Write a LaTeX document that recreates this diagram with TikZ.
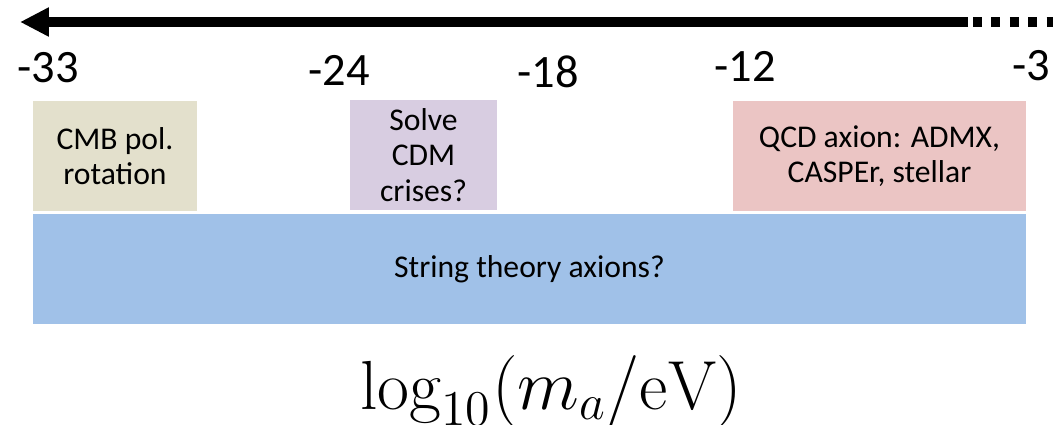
\documentclass[tikz,border=0pt]{standalone}
\usepackage{fontspec}
\usepackage{graphicx}
\usepackage{tikz}
\usetikzlibrary{arrows.meta,positioning}
\newfontfamily\calibri{Carlito}
\definecolor{cmbfill}{HTML}{E3E0CC}
\definecolor{cdmfill}{HTML}{D8CDE1}
\definecolor{qcdfill}{HTML}{EBC5C4}
\definecolor{stringfill}{HTML}{A0C1E8}

\begin{document}
\begin{tikzpicture}[x=0.025cm, y=-0.025cm,
  tick/.style={font=\calibri\fontsize{33}{38}\selectfont, inner sep=0pt},
  band/.style={minimum height=2.75cm, align=center, inner sep=0pt, font=\calibri\fontsize{22.5}{25}\selectfont},
  axisline/.style={line width=0.23cm, black}
]
  \useasboundingbox (0,0) rectangle (1053,424);

  % mass axis
  \coordinate (lo) at (20,22);
  \coordinate (mid) at (968,22);
  \coordinate (hi) at (1053,22);
  \draw[axisline, -{Triangle[length=0.72cm, width=0.68cm]}] (mid) -- (lo);
  \draw[axisline, dash pattern=on 0.22cm off 0.24cm] (973,22) -- (hi);

  \node[tick] (t33) at (48,68) {-33};
  \node[tick] (t24) at (339,70) {-24};
  \node[tick] (t18) at (548,72) {-18};
  \node[tick] (t12) at (745,66) {-12};
  \node[tick] (t3) at (1031,66) {-3};

  % probes
  \node[band, fill=cmbfill, minimum width=4.1cm] (cmb) at (115,156) {CMB pol.\\rotation};
  \node[band, fill=cdmfill, minimum width=3.675cm] (cdm) at (423.5,155) {Solve\\CDM\\crises?};
  \node[band, fill=qcdfill, minimum width=7.325cm] (qcd) at (879.5,156) {QCD axion: ADMX,\\CASPEr, stellar};
  \node[band, fill=stringfill, minimum width=24.825cm] (str) at (529.5,269) {String theory axions?};

  \node[inner sep=0pt, anchor=base west] (lbl) at (360,409) {\scalebox{2.47}{\fontsize{20}{24}\selectfont$\log_{10}(m_a/\mathrm{eV})$}};
\end{tikzpicture}
\end{document}
